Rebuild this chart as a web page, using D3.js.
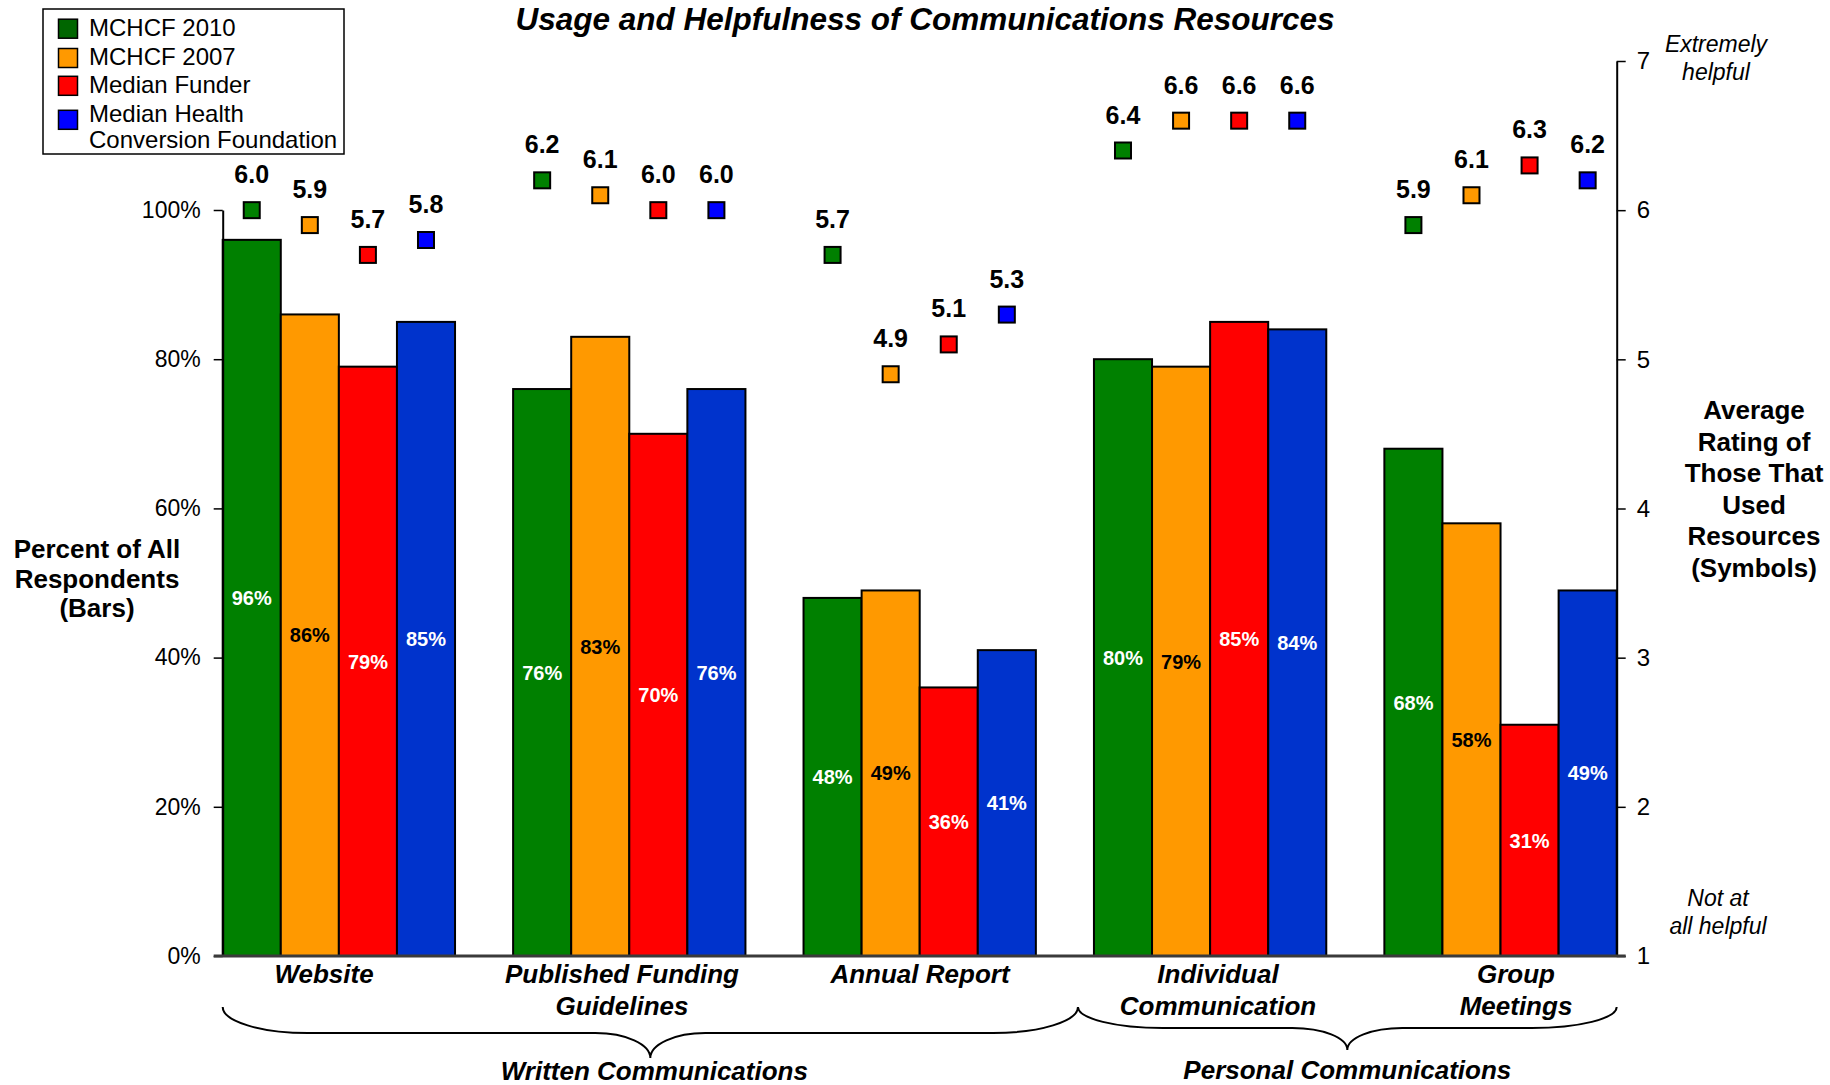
<!DOCTYPE html>
<html>
<head>
<meta charset="utf-8">
<script src="https://cdn.jsdelivr.net/npm/d3@7"></script>
<style>
  html, body { margin: 0; padding: 0; background: #fff; }
  svg { display: block; font-family: "Liberation Sans", Arial, sans-serif; }
</style>
</head>
<body>
<svg id="chart" width="1830" height="1085"></svg>
<script>
// Resource categories (x axis) and the lines each label is split into
const categories = ["Website", "Published Funding Guidelines", "Annual Report", "Individual Communication", "Group Meetings"];
const categoryLines = [["Website"], ["Published Funding", "Guidelines"], ["Annual Report"], ["Individual", "Communication"], ["Group", "Meetings"]];

// Respondent groups
const series = ["MCHCF 2010", "MCHCF 2007", "Median Funder", "Median Health Conversion Foundation"];
const legendLines = [["MCHCF 2010"], ["MCHCF 2007"], ["Median Funder"], ["Median Health", "Conversion Foundation"]];

// Percent of all respondents that used each resource (bars)
const usage2010   = [96, 76, 48, 80, 68];
const usage2007   = [86, 83, 49, 79, 58];
const usageFunder = [79, 70, 36, 85, 31];
const usageHCF    = [85, 76, 41, 84, 49];

// Average helpfulness rating of those that used it (symbols, 1-7 scale)
const rating2010   = [6.0, 6.2, 5.7, 6.4, 5.9];
const rating2007   = [5.9, 6.1, 4.9, 6.6, 6.1];
const ratingFunder = [5.7, 6.0, 5.1, 6.6, 6.3];
const ratingHCF    = [5.8, 6.0, 5.3, 6.6, 6.2];

// Axis ticks
const pctTicks = [0, 20, 40, 60, 80, 100];
const ratingTicks = [1, 2, 3, 4, 5, 6, 7];

// Category groupings shown with braces
const groupNames = ["Written Communications", "Personal Communications"];

const usage = [usage2010, usage2007, usageFunder, usageHCF];
const ratings = [rating2010, rating2007, ratingFunder, ratingHCF];

const barColors    = ["#008000", "#FF9900", "#FF0000", "#0033CC"];
const markerColors = ["#008000", "#FF9900", "#FF0000", "#0000FF"];
const legendColors = ["#006600", "#FF9900", "#FF0000", "#0000FF"];
const barLabelColors = ["#FFFFFF", "#000000", "#FFFFFF", "#FFFFFF"];

const svg = d3.select("#chart");
const plot = { left: 222.7, right: 1616.7, top: 61, bottom: 956 };

const x = d3.scaleBand().domain(categories).range([plot.left, plot.right]).paddingInner(0.2).paddingOuter(0);
const xs = d3.scaleBand().domain(series).range([0, x.bandwidth()]).padding(0);
const y = d3.scaleLinear().domain([0, 100]).range([plot.bottom, 210]);
const yr = d3.scaleLinear().domain([1, 7]).range([plot.bottom, plot.top]);
// Category labels sit on a slightly wider spread than the bar groups
const xLabel = d3.scaleBand().domain(categories).range([175, 1665]).padding(0);

// Rows of data: one per category/series pair
const rows = [];
categories.forEach((c, i) => {
  series.forEach((s, j) => {
    rows.push({ cat: c, ser: s, j: j, pct: usage[j][i], rating: ratings[j][i] });
  });
});

// Bars
svg.append("g").selectAll("rect").data(rows).join("rect")
  .attr("x", d => x(d.cat) + xs(d.ser))
  .attr("y", d => y(d.pct))
  .attr("width", xs.bandwidth())
  .attr("height", d => y(0) - y(d.pct))
  .attr("fill", d => barColors[d.j])
  .attr("stroke", "#000")
  .attr("stroke-width", 2);

// Percent labels inside bars
svg.append("g").selectAll("text").data(rows).join("text")
  .attr("x", d => x(d.cat) + xs(d.ser) + xs.bandwidth() / 2)
  .attr("y", d => (y(d.pct) + y(0)) / 2)
  .attr("dy", "0.36em")
  .attr("text-anchor", "middle")
  .attr("font-size", 20)
  .attr("font-weight", "bold")
  .attr("fill", d => barLabelColors[d.j])
  .text(d => d.pct + "%");

// Left axis (percent)
const axL = svg.append("g").attr("transform", `translate(${plot.left},0)`)
  .call(d3.axisLeft(y).tickValues(pctTicks).tickFormat(d => d + "%").tickSize(9).tickSizeOuter(0).tickPadding(13));
axL.selectAll("text").attr("font-size", 23).attr("font-family", "Liberation Sans, Arial, sans-serif").attr("fill", "#000");
axL.selectAll("line").attr("stroke", "#000").attr("stroke-width", 1.5);
axL.select(".domain").attr("stroke", "#000").attr("stroke-width", 2);

// Right axis (rating)
const axR = svg.append("g").attr("transform", `translate(${plot.right},0)`)
  .call(d3.axisRight(yr).tickValues(ratingTicks).tickFormat(d3.format("d")).tickSize(9).tickSizeOuter(0).tickPadding(11));
axR.selectAll("text").attr("font-size", 24).attr("font-family", "Liberation Sans, Arial, sans-serif").attr("fill", "#000");
axR.selectAll("line").attr("stroke", "#000").attr("stroke-width", 1.5);
axR.select(".domain").attr("stroke", "#000").attr("stroke-width", 2);

// Zero baseline
svg.append("line")
  .attr("x1", plot.left - 9).attr("x2", plot.right + 9)
  .attr("y1", y(0)).attr("y2", y(0))
  .attr("stroke", "#3a3a3a").attr("stroke-width", 3);

// Rating symbols
const msize = 16;
svg.append("g").selectAll("rect").data(rows).join("rect")
  .attr("x", d => x(d.cat) + xs(d.ser) + xs.bandwidth() / 2 - msize / 2)
  .attr("y", d => yr(d.rating) - msize / 2)
  .attr("width", msize).attr("height", msize)
  .attr("fill", d => markerColors[d.j])
  .attr("stroke", "#000").attr("stroke-width", 2);

// Rating labels
svg.append("g").selectAll("text").data(rows).join("text")
  .attr("x", d => x(d.cat) + xs(d.ser) + xs.bandwidth() / 2)
  .attr("y", d => yr(d.rating) - 27)
  .attr("text-anchor", "middle")
  .attr("font-size", 25)
  .attr("font-weight", "bold")
  .attr("fill", "#000")
  .text(d => d3.format(".1f")(d.rating));

// Category labels
const catG = svg.append("g").attr("font-size", 26).attr("font-weight", "bold").attr("font-style", "italic").attr("text-anchor", "middle");
categories.forEach((c, i) => {
  categoryLines[i].forEach((line, k) => {
    catG.append("text")
      .attr("x", xLabel(c) + xLabel.bandwidth() / 2)
      .attr("y", 983 + k * 32)
      .text(line);
  });
});

// Braces under the category groups
const junction = x("Individual Communication") - 16;
const braceSpans = [
  { x0: plot.left, x1: junction, top: 1007, mid: 1033, tip: 1058, labelY: 1080 },
  { x0: junction, x1: plot.right, top: 1007, mid: 1028, tip: 1050, labelY: 1079 }
];
function bracePath(b) {
  const xc = (b.x0 + b.x1) / 2;
  const rx = 85, ry = b.mid - b.top;
  const rc = 55, rcy = b.tip - b.mid;
  return `M${b.x0},${b.top}` +
    `A${rx},${ry} 0 0 0 ${b.x0 + rx},${b.mid}` +
    `L${xc - rc},${b.mid}` +
    `A${rc},${rcy} 0 0 1 ${xc},${b.tip}` +
    `A${rc},${rcy} 0 0 1 ${xc + rc},${b.mid}` +
    `L${b.x1 - rx},${b.mid}` +
    `A${rx},${ry} 0 0 0 ${b.x1},${b.top}`;
}
braceSpans.forEach((b, i) => {
  svg.append("path").attr("d", bracePath(b)).attr("fill", "none").attr("stroke", "#000").attr("stroke-width", 2);
  svg.append("text")
    .attr("x", (b.x0 + b.x1) / 2 + (i === 0 ? 4 : 0))
    .attr("y", b.labelY)
    .attr("text-anchor", "middle")
    .attr("font-size", 26).attr("font-weight", "bold").attr("font-style", "italic")
    .text(groupNames[i]);
});

// Title
svg.append("text")
  .attr("x", 925).attr("y", 30)
  .attr("text-anchor", "middle")
  .attr("font-size", 31.5).attr("font-weight", "bold").attr("font-style", "italic")
  .text("Usage and Helpfulness of Communications Resources");

// Left axis title
const lt = ["Percent of All", "Respondents", "(Bars)"];
svg.append("g").attr("font-size", 26).attr("font-weight", "bold").attr("text-anchor", "middle")
  .selectAll("text").data(lt).join("text")
  .attr("x", 97).attr("y", (d, i) => 558 + i * 29.5).text(d => d);

// Right axis title
const rt = ["Average", "Rating of", "Those That", "Used", "Resources", "(Symbols)"];
svg.append("g").attr("font-size", 26).attr("font-weight", "bold").attr("text-anchor", "middle")
  .selectAll("text").data(rt).join("text")
  .attr("x", 1754).attr("y", (d, i) => 419 + i * 31.6).text(d => d);

// Scale anchors
svg.append("g").attr("font-size", 23).attr("font-style", "italic").attr("text-anchor", "middle")
  .selectAll("text").data(["Extremely", "helpful"]).join("text")
  .attr("x", 1716).attr("y", (d, i) => 52 + i * 28).text(d => d);
svg.append("g").attr("font-size", 23).attr("font-style", "italic").attr("text-anchor", "middle")
  .selectAll("text").data(["Not at", "all helpful"]).join("text")
  .attr("x", 1718).attr("y", (d, i) => 906 + i * 28).text(d => d);

// Legend
const lg = svg.append("g");
lg.append("rect").attr("x", 43).attr("y", 9).attr("width", 301).attr("height", 145)
  .attr("fill", "#fff").attr("stroke", "#000").attr("stroke-width", 1.5);
const legendBase = [36, 65, 93.3, 121.7];
const swatchMid = [28.7, 58, 85.8, 119.8];
series.forEach((s, j) => {
  lg.append("rect").attr("x", 58.5).attr("y", swatchMid[j] - 9.5).attr("width", 19).attr("height", 19)
    .attr("fill", legendColors[j]).attr("stroke", "#000").attr("stroke-width", 1.5);
  legendLines[j].forEach((line, k) => {
    lg.append("text").attr("x", 89).attr("y", legendBase[j] + k * 26)
      .attr("font-size", 24).text(line);
  });
});
</script>
</body>
</html>
